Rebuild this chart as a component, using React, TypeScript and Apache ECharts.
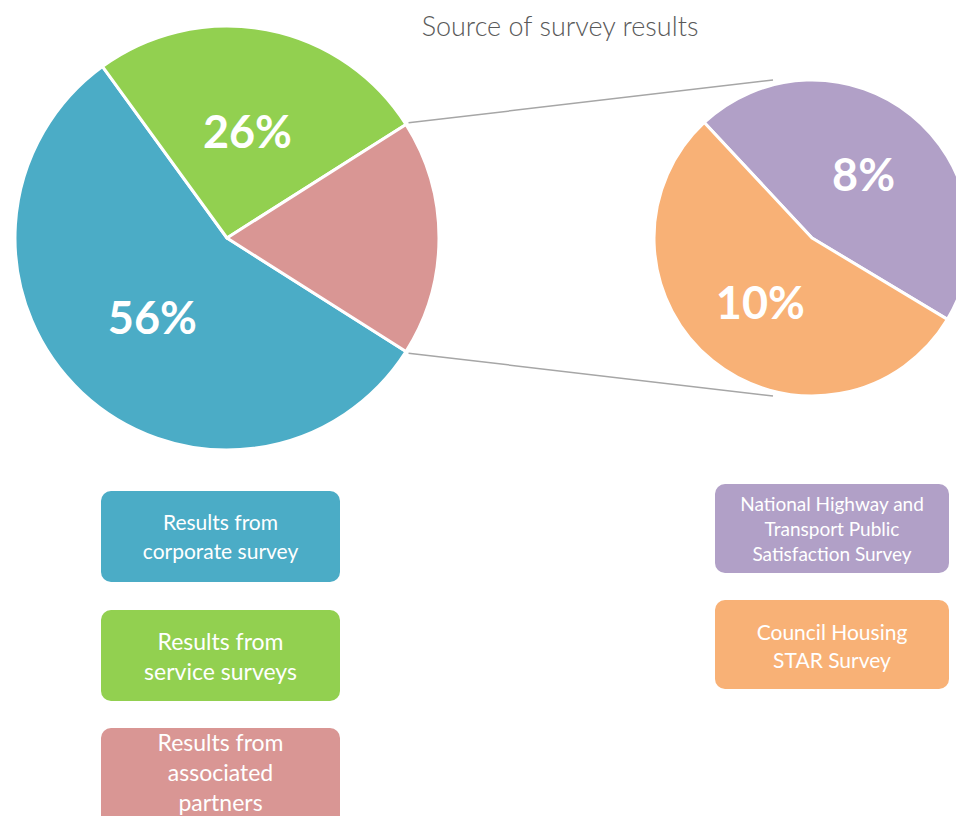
import React, { useEffect, useRef } from "react";
import * as echarts from "echarts";

const mainNames = ["Results from corporate survey", "Results from service surveys", "Results from associated partners"];
const mainValues = [56, 26, 18];
const mainColors = ["#4BACC6", "#92D050", "#D99694"];
const mainShowLabel = [true, true, false];

const subNames = ["National Highway and Transport Public Satisfaction Survey", "Council Housing STAR Survey"];
const subValues = [8.2, 9.8];
const subColors = ["#B1A0C7", "#F8B176"];

const legendLeftLines = [
  ["Results from", "corporate survey"],
  ["Results from", "service surveys"],
  ["Results from", "associated", "partners"],
];
const legendRightLines = [
  ["National Highway and", "Transport Public", "Satisfaction Survey"],
  ["Council Housing", "STAR Survey"],
];

const FONT = "Lato, 'Open Sans', sans-serif";

export default function App() {
  const ref = useRef<HTMLDivElement>(null);
  useEffect(() => {
    if (!ref.current) return;
    const chart = echarts.init(ref.current, undefined, { renderer: "svg" });

    const c1 = [227, 238];
    const r1 = 212;
    const start1 = -32.4;
    const c2 = [812, 238];
    const r2 = 158;
    const start2 = 133;

    const pinkEnd = start1 + 360 * (mainValues[2] / 100);
    const pt = (c: number[], r: number, deg: number) => [
      c[0] + r * Math.cos((deg * Math.PI) / 180),
      c[1] - r * Math.sin((deg * Math.PI) / 180),
    ];
    const a = pt(c1, r1 + 3, pinkEnd);
    const b = pt(c1, r1 + 3, start1);
    const top2 = [c2[0] - 39, c2[1] - r2];
    const bot2 = [c2[0] - 39, c2[1] + r2];

    const boxesLeft = [
      { x: 101, y: 491, w: 239, h: 91, fs: 21, lh: 29 },
      { x: 101, y: 610, w: 239, h: 91, fs: 23, lh: 30 },
      { x: 101, y: 728, w: 239, h: 100, fs: 23, lh: 30 },
    ];
    const boxesRight = [
      { x: 715, y: 484, w: 234, h: 89, fs: 19, lh: 25 },
      { x: 715, y: 600, w: 234, h: 89, fs: 21, lh: 28 },
    ];
    const textYLeft = [536, 656, 772];
    const textYRight = [528, 645];

    const graphics: any[] = [
      { type: "line", shape: { x1: a[0], y1: a[1], x2: top2[0], y2: top2[1] }, style: { stroke: "#A6A6A6", lineWidth: 1.5 }, z: 1 },
      { type: "line", shape: { x1: b[0], y1: b[1], x2: bot2[0], y2: bot2[1] }, style: { stroke: "#A6A6A6", lineWidth: 1.5 }, z: 1 },
    ];
    boxesLeft.forEach((bx, i) => {
      graphics.push({ type: "rect", shape: { x: bx.x, y: bx.y, width: bx.w, height: bx.h, r: 10 }, style: { fill: mainColors[i] } });
      graphics.push({
        type: "text",
        x: bx.x + bx.w / 2,
        y: textYLeft[i],
        style: { text: legendLeftLines[i].join("\n"), fill: "#FFFFFF", font: `${bx.fs}px ${FONT}`, lineHeight: bx.lh, align: "center", verticalAlign: "middle" },
      });
    });
    boxesRight.forEach((bx, i) => {
      graphics.push({ type: "rect", shape: { x: bx.x, y: bx.y, width: bx.w, height: bx.h, r: 10 }, style: { fill: subColors[i] } });
      graphics.push({
        type: "text",
        x: bx.x + bx.w / 2,
        y: textYRight[i],
        style: { text: legendRightLines[i].join("\n"), fill: "#FFFFFF", font: `${bx.fs}px ${FONT}`, lineHeight: bx.lh, align: "center", verticalAlign: "middle" },
      });
    });

    const labelStyle = {
      show: true,
      position: "inside",
      color: "#FFFFFF",
      fontSize: 45,
      fontWeight: "bold",
      fontFamily: FONT,
    };

    chart.setOption({
      animation: false,
      title: {
        text: "Source of survey results",
        left: 555,
        top: 7,
        textAlign: "center",
        textStyle: { color: "#595959", fontSize: 27, fontWeight: 300, fontFamily: FONT },
      },
      graphic: graphics,
      series: [
        {
          type: "pie",
          center: c1,
          radius: r1,
          startAngle: start1,
          clockwise: true,
          silent: true,
          label: { ...labelStyle, formatter: (p: any) => (mainShowLabel[p.dataIndex] ? `${Math.round(p.value)}%` : "") },
          labelLine: { show: false },
          itemStyle: { borderColor: "#FFFFFF", borderWidth: 3 },
          data: mainNames.map((n, i) => ({ name: n, value: mainValues[i], itemStyle: { color: mainColors[i] } })),
        },
        {
          type: "pie",
          center: c2,
          radius: r2,
          startAngle: start2,
          clockwise: true,
          silent: true,
          label: { ...labelStyle, formatter: (p: any) => `${Math.round(p.value)}%` },
          labelLine: { show: false },
          itemStyle: { borderColor: "#FFFFFF", borderWidth: 3 },
          data: subNames.map((n, i) => ({ name: n, value: subValues[i], itemStyle: { color: subColors[i] } })),
        },
      ],
    });
    return () => chart.dispose();
  }, []);
  return <div ref={ref} style={{ position: "fixed", left: 0, top: 0, width: 956, height: 816, background: "#FFFFFF" }} />;
}
